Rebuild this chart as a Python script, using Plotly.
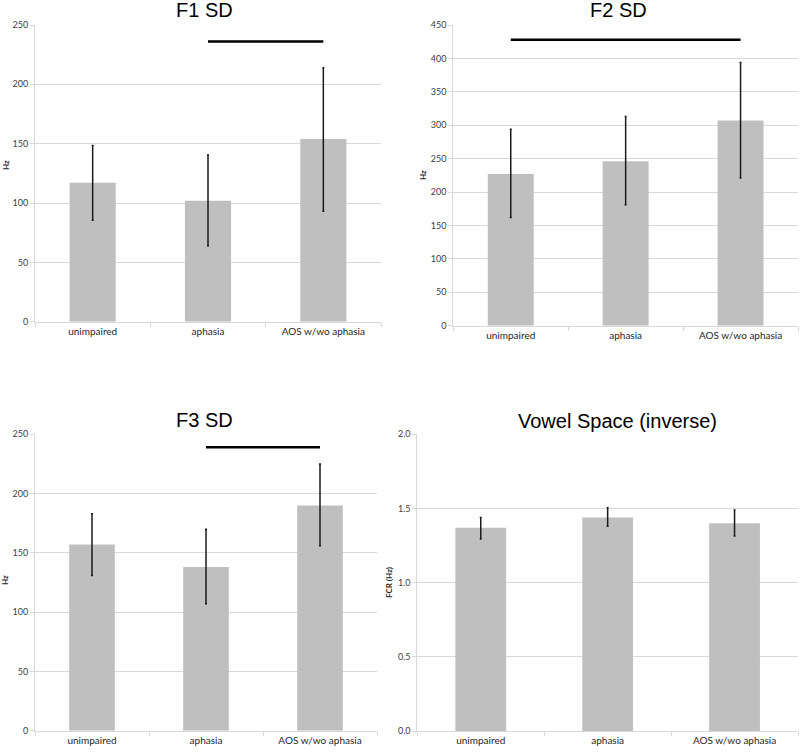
import plotly.graph_objects as go

W, H = 800, 753

categories = ["unimpaired", "aphasia", "AOS w/wo aphasia"]

f1_mean = [117, 102, 154]
f1_high = [148.5, 140.5, 214]
f1_low = [85.5, 64, 93]

f2_mean = [227, 246, 307]
f2_high = [294, 313, 394]
f2_low = [162, 181, 221]

f3_mean = [157, 138, 190]
f3_high = [183, 170, 225]
f3_low = [131, 107, 156]

vs_mean = [1.37, 1.44, 1.40]
vs_high = [1.44, 1.505, 1.49]
vs_low = [1.295, 1.38, 1.315]

# significance bars: (from category, to category, y value)
f1_sig = ("aphasia", "AOS w/wo aphasia", 236)
f2_sig = ("unimpaired", "AOS w/wo aphasia", 428)
f3_sig = ("aphasia", "AOS w/wo aphasia", 239)

BAR = "#bfbfbf"
GRID = "#d9d9d9"
TXT = "#404040"

# pixel boxes of each panel: left, right, top, bottom
panels = [
    dict(box=(35, 381, 25, 321.7), mean=f1_mean, hi=f1_high, lo=f1_low, sig=f1_sig,
         rng=[0, 250], dtick=50, fmt="", title="F1 SD", tpos=(205, 10),
         ylab="Hz", lpos=(6, 165)),
    dict(box=(453.3, 798, 25, 325.7), mean=f2_mean, hi=f2_high, lo=f2_low, sig=f2_sig,
         rng=[0, 450], dtick=50, fmt="", title="F2 SD", tpos=(618, 10),
         ylab="Hz", lpos=(423, 175)),
    dict(box=(35, 377, 434.3, 730.7), mean=f3_mean, hi=f3_high, lo=f3_low, sig=f3_sig,
         rng=[0, 250], dtick=50, fmt="", title="F3 SD", tpos=(205, 420),
         ylab="Hz", lpos=(5, 580)),
    dict(box=(417.3, 798, 434.3, 731), mean=vs_mean, hi=vs_high, lo=vs_low, sig=None,
         rng=[0, 2], dtick=0.5, fmt=".1f", title="Vowel Space (inverse)", tpos=(617, 421),
         ylab="FCR (Hz)", lpos=(389, 583)),
]

fig = go.Figure()
annotations = []
layout = {}

for i, p in enumerate(panels, start=1):
    xa = "x" if i == 1 else f"x{i}"
    ya = "y" if i == 1 else f"y{i}"
    l, r, t, b = p["box"]
    fig.add_trace(go.Bar(
        x=categories, y=p["mean"], xaxis=xa, yaxis=ya,
        marker=dict(color=BAR, line=dict(width=0)), width=0.4,
        error_y=dict(type="data", symmetric=False,
                     array=[h - m for h, m in zip(p["hi"], p["mean"])],
                     arrayminus=[m - lo for m, lo in zip(p["mean"], p["lo"])],
                     color="#1a1a1a", thickness=1.5, width=1),
        showlegend=False, hoverinfo="skip"))
    if p["sig"]:
        c0, c1, yv = p["sig"]
        fig.add_trace(go.Scatter(
            x=[c0, c1], y=[yv, yv], xaxis=xa, yaxis=ya, mode="lines",
            line=dict(color="black", width=2.5), showlegend=False, hoverinfo="skip"))
    xkey = "xaxis" if i == 1 else f"xaxis{i}"
    ykey = "yaxis" if i == 1 else f"yaxis{i}"
    layout[xkey] = dict(
        domain=[l / W, r / W], anchor=ya, type="category",
        categoryorder="array", categoryarray=categories,
        showline=True, linecolor=GRID, linewidth=1,
        ticks="outside", tickson="boundaries", ticklen=4, tickcolor=GRID,
        showgrid=False, automargin=False,
        tickfont=dict(family="Lato", size=10, color="#262626"))
    layout[ykey] = dict(
        domain=[1 - b / H, 1 - t / H], anchor=xa, range=p["rng"], dtick=p["dtick"],
        tickformat=p["fmt"], showline=True, linecolor=GRID, linewidth=1,
        ticks="outside", ticklen=4, tickcolor=GRID, gridcolor=GRID, gridwidth=1,
        zeroline=False, automargin=False,
        tickfont=dict(family="Lato", size=9, color=TXT))
    annotations.append(dict(
        text=p["title"], x=p["tpos"][0] / W, y=1 - p["tpos"][1] / H,
        xref="paper", yref="paper", showarrow=False, xanchor="center", yanchor="middle",
        font=dict(family="Liberation Sans", size=20, color="black")))
    annotations.append(dict(
        text="<b>" + p["ylab"] + "</b>", x=p["lpos"][0] / W, y=1 - p["lpos"][1] / H,
        xref="paper", yref="paper", showarrow=False, textangle=-90,
        xanchor="center", yanchor="middle",
        font=dict(family="Lato", size=8, color="#262626")))

fig.update_layout(
    width=W, height=H, margin=dict(l=0, r=0, t=0, b=0),
    paper_bgcolor="white", plot_bgcolor="white",
    annotations=annotations, bargap=0.6, **layout)

# drop the default page margin so the figure sits at the window origin
fig.write_html("out.html", config={"displayModeBar": False},
               post_script="document.body.style.margin='0';")
